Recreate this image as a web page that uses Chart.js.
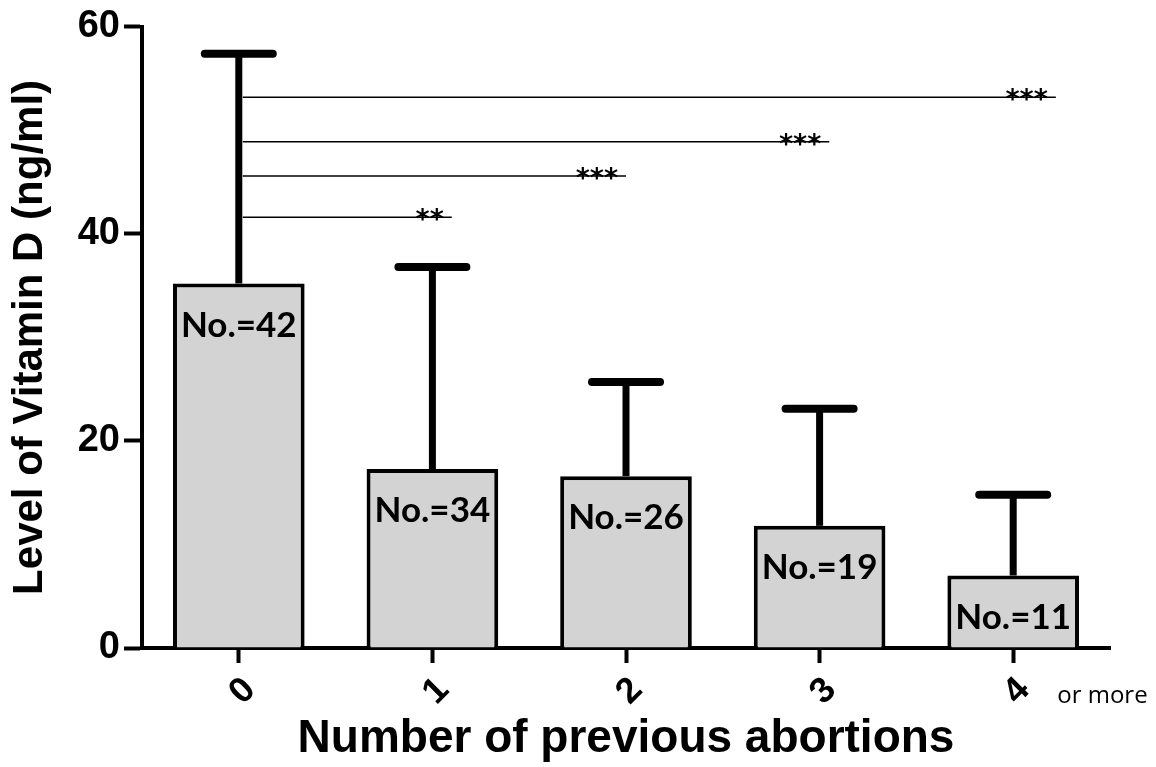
<!DOCTYPE html>
<html>
<head>
<meta charset="utf-8">
<script src="https://cdn.jsdelivr.net/npm/chart.js@4.4.1/dist/chart.umd.min.js"></script>
<style>
  html, body { margin: 0; padding: 0; background: #fff; }
  #wrap { width: 1156px; height: 767px; }
</style>
</head>
<body>
<div id="wrap"><canvas id="vitChart"></canvas></div>
<script>
// groups on the x axis
const categories = ["0", "1", "2", "3", "4"];
// mean vitamin D level per group (ng/ml)
const means = [35.2, 17.3, 16.6, 11.8, 7.0];
// upper error (SD) above each mean
const sds = [22.2, 19.5, 9.1, 11.3, 7.8];
// group sizes shown inside bars
const groupSizes = [42, 34, 26, 19, 11];
// significance brackets from group 0
const sigLevels = [41.6, 45.6, 48.9, 53.2];
const sigEnds = [1.1, 2.0, 3.05, 4.22];
const sigMarks = ["**", "***", "***", "***"];
const yTicks = [0, 20, 40, 60];

const boldFont = "'Liberation Sans', Arial, sans-serif";

// draws error bars, significance lines, n-labels and the "or more" note
const extrasPlugin = {
  id: "extras",
  afterDatasetsDraw(chart) {
    const ctx = chart.ctx;
    const xs = chart.scales.x;
    const ys = chart.scales.y;
    ctx.save();
    ctx.strokeStyle = "#000";
    ctx.fillStyle = "#000";

    // error bars (upper only)
    means.forEach((m, i) => {
      const x = xs.getPixelForValue(i);
      const yTop = ys.getPixelForValue(m);
      const yErr = ys.getPixelForValue(m + sds[i]);
      ctx.lineWidth = 7;
      ctx.lineCap = "butt";
      ctx.beginPath();
      ctx.moveTo(x, yTop);
      ctx.lineTo(x, yErr);
      ctx.stroke();
      ctx.lineWidth = 8;
      ctx.lineCap = "round";
      ctx.beginPath();
      ctx.moveTo(x - 34, yErr);
      ctx.lineTo(x + 34, yErr);
      ctx.stroke();
    });

    // significance lines
    const x0 = xs.getPixelForValue(0) + 4;
    sigLevels.forEach((lvl, i) => {
      const y = ys.getPixelForValue(lvl);
      const xe = xs.getPixelForValue(sigEnds[i]);
      ctx.lineWidth = 1.5;
      ctx.lineCap = "butt";
      ctx.beginPath();
      ctx.moveTo(x0, y);
      ctx.lineTo(xe, y);
      ctx.stroke();
      ctx.font = "bold 27px 'DejaVu Sans', sans-serif";
      ctx.textAlign = "right";
      ctx.textBaseline = "alphabetic";
      ctx.fillText(sigMarks[i], xe - 8, y + 11);
    });

    // group sizes inside bars
    ctx.font = "bold 35px Lato, sans-serif";
    ctx.textAlign = "center";
    ctx.textBaseline = "middle";
    groupSizes.forEach((n, i) => {
      const x = xs.getPixelForValue(i);
      const y = ys.getPixelForValue(means[i]) + 42;
      ctx.fillText("No.=" + n, x, y);
    });

    // "or more" next to the last tick label
    const xl = xs.getPixelForValue(categories.length - 1);
    ctx.font = "24px 'Open Sans', sans-serif";
    ctx.textAlign = "left";
    ctx.textBaseline = "alphabetic";
    ctx.fillText("or more", xl + 44, xs.bottom - 64);
    ctx.restore();
  }
};

new Chart(document.getElementById("vitChart"), {
  type: "bar",
  data: {
    labels: categories,
    datasets: [
      {
        data: means,
        backgroundColor: "#d3d3d3",
        borderColor: "#000",
        borderWidth: 4,
        borderSkipped: "bottom",
        barPercentage: 0.68,
        categoryPercentage: 1.0,
      },
    ],
  },
  options: {
    responsive: true,
    maintainAspectRatio: false,
    animation: false,
    layout: {
      padding: { top: 25, right: 46, left: 0, bottom: 0 },
    },
    plugins: {
      legend: { display: false },
      tooltip: { enabled: false },
    },
    scales: {
      x: {
        offset: true,
        border: { display: true, color: "#000", width: 4 },
        grid: {
          offset: false,
          drawOnChartArea: false,
          drawTicks: true,
          tickLength: 15,
          tickWidth: 4,
          tickColor: "#000",
        },
        ticks: {
          color: "#000",
          font: { family: boldFont, weight: "bold", size: 36 },
          minRotation: 45,
          maxRotation: 45,
          padding: 6,
          labelOffset: 11,
        },
        title: {
          display: true,
          text: "Number of previous abortions",
          color: "#000",
          font: { family: boldFont, weight: "bold", size: 46 },
          padding: { top: 4, bottom: 0 },
        },
        afterFit: (s) => { s.height = 119; },
      },
      y: {
        min: 0,
        max: 60,
        border: { display: true, color: "#000", width: 4 },
        grid: {
          drawOnChartArea: false,
          drawTicks: true,
          tickLength: 18,
          tickWidth: 4,
          tickColor: "#000",
        },
        afterBuildTicks: (s) => { s.ticks = yTicks.map((v) => ({ value: v })); },
        ticks: {
          color: "#000",
          font: { family: boldFont, weight: "bold", size: 38 },
          padding: 4,
        },
        title: {
          display: true,
          text: "Level of Vitamin D (ng/ml)",
          color: "#000",
          font: { family: boldFont, weight: "bold", size: 42 },
          padding: { top: 5, bottom: 4 },
        },
        afterFit: (s) => { s.width = 142; },
      },
    },
  },
  plugins: [extrasPlugin],
});
</script>
</body>
</html>
